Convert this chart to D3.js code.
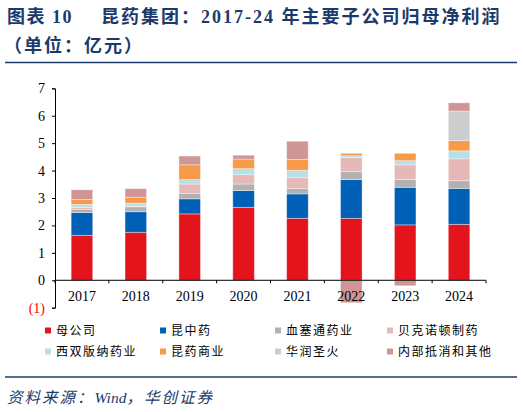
<!DOCTYPE html>
<html>
<head>
<meta charset="utf-8">
<script src="https://cdn.jsdelivr.net/npm/d3@7"></script>
<style>
  body { margin: 0; background: #fff; }
  svg { display: block; }
</style>
</head>
<body>
<div id="chart"></div>
<script>
"use strict";

// data (亿元)
var years = ["2017", "2018", "2019", "2020", "2021", "2022", "2023", "2024"];
var seriesNames = ["母公司", "昆中药", "血塞通药业", "贝克诺顿制药", "西双版纳药业", "昆药商业", "华润圣火", "内部抵消和其他"];
var muGongSi   = [1.64, 1.75, 2.42, 2.66, 2.26, 2.26, 2.02, 2.04];
var kunZhongYao = [0.83, 0.75, 0.55, 0.61, 0.89, 1.41, 1.37, 1.31];
var xueSaiTong = [0.12, 0.18, 0.19, 0.24, 0.19, 0.29, 0.28, 0.28];
var beiKe      = [0.06, 0.02, 0.35, 0.34, 0.40, 0.51, 0.54, 0.80];
var xiShuang   = [0.12, 0.11, 0.16, 0.22, 0.27, 0.07, 0.15, 0.29];
var shangYe    = [0.18, 0.22, 0.54, 0.35, 0.40, 0.09, 0.27, 0.37];
var huaRun     = [0, 0, 0, 0, 0, 0, 0, 1.08];
var qiTa       = [0.35, 0.31, 0.32, 0.14, 0.66, -0.82, -0.20, 0.30];
var yTicks = [-1, 0, 1, 2, 3, 4, 5, 6, 7];

var seriesData = [muGongSi, kunZhongYao, xueSaiTong, beiKe, xiShuang, shangYe, huaRun, qiTa];
var colors = ["#e4141c", "#0060b6", "#b1b1b1", "#e6b9b8", "#b9dfe9", "#f79a4a", "#cdcdcd", "#d09595"];

var W = 524, H = 412;
var navy = "#1b3a6b";

var svg = d3.select("#chart").append("svg")
    .attr("width", W).attr("height", H);

// title
var titleFont = "'Liberation Serif','Noto Sans CJK SC'";
svg.append("text")
   .attr("x", 7).attr("y", 23)
   .attr("font-family", titleFont)
   .attr("font-weight", "bold").attr("font-size", 18)
   .attr("letter-spacing", 1.5)
   .attr("fill", navy)
   .text("图表  10");
svg.append("text")
   .attr("x", 101).attr("y", 23)
   .attr("font-family", titleFont)
   .attr("font-weight", "bold").attr("font-size", 18)
   .attr("letter-spacing", 2)
   .attr("fill", navy)
   .text("昆药集团：2017-24 年主要子公司归母净利润");
svg.append("text")
   .attr("x", 4).attr("y", 52)
   .attr("font-family", "'Noto Sans CJK SC'")
   .attr("font-weight", "bold").attr("font-size", 18)
   .attr("letter-spacing", 2)
   .attr("fill", navy)
   .text("（单位：亿元）");
svg.append("line")
   .attr("x1", 5).attr("x2", 517).attr("y1", 62.5).attr("y2", 62.5)
   .attr("stroke", navy).attr("stroke-width", 1.5);

// scales
var x = d3.scaleBand().domain(years).range([55, 486]).paddingInner(0.6).paddingOuter(0.3);
var xb = d3.scaleBand().domain(years).range([55, 486]);
var y = d3.scaleLinear().domain([-1, 7]).range([307.7, 88.3]);

// stacked segments (positives stack up, negatives go down)
var pos = years.map(function () { return 0; });
var neg = years.map(function () { return 0; });
seriesData.forEach(function (vals, si) {
  vals.forEach(function (v, i) {
    if (v === 0) return;
    var y0, y1;
    if (v > 0) { y0 = pos[i]; y1 = pos[i] + v; pos[i] = y1; }
    else { y0 = neg[i] + v; y1 = neg[i]; neg[i] = y0; }
    svg.append("rect")
       .attr("x", x(years[i]))
       .attr("width", x.bandwidth())
       .attr("y", y(y1))
       .attr("height", y(y0) - y(y1))
       .attr("fill", colors[si])
       .attr("stroke", "#fff").attr("stroke-opacity", 0.45).attr("stroke-width", 0.8);
  });
});

// y axis
var yAxis = d3.axisLeft(y).tickValues(yTicks).tickSize(3)
    .tickFormat(function (d) { return d < 0 ? "(" + (-d) + ")" : d; });
var gy = svg.append("g").attr("transform", "translate(55,0)").call(yAxis);
gy.select(".domain").attr("stroke", "#000");
gy.selectAll(".tick line").attr("stroke", "#000");
gy.selectAll("text")
  .attr("font-family", "'Liberation Serif'").attr("font-size", 14)
  .attr("fill", function (d) { return d < 0 ? "#ff0000" : "#000"; })
  .attr("x", -10);

// x axis at zero with ticks at category boundaries
var gx = svg.append("g").attr("transform", "translate(0," + y(0) + ")");
gx.append("line").attr("x1", 55).attr("x2", 486).attr("stroke", "#000");
gx.selectAll(".bt").data(years.concat(["end"])).enter().append("line")
  .attr("x1", function (d, i) { return 55 + i * xb.bandwidth(); })
  .attr("x2", function (d, i) { return 55 + i * xb.bandwidth(); })
  .attr("y1", 0).attr("y2", 3).attr("stroke", "#000");
gx.selectAll(".yl").data(years).enter().append("text")
  .attr("x", function (d) { return xb(d) + xb.bandwidth() / 2; })
  .attr("y", 21)
  .attr("text-anchor", "middle")
  .attr("font-family", "'Liberation Serif'").attr("font-size", 14)
  .attr("fill", "#000")
  .text(function (d) { return d; });

// legend
var legX = [45, 160, 275, 387], legY = [330.5, 351.5];
seriesNames.forEach(function (name, i) {
  var lx = legX[i % 4], ly = legY[Math.floor(i / 4)];
  svg.append("rect").attr("x", lx).attr("y", ly - 3).attr("width", 6).attr("height", 6)
     .attr("fill", colors[i]);
  svg.append("text").attr("x", lx + 11).attr("y", ly + 4.5)
     .attr("font-family", "'Noto Sans CJK SC'").attr("font-size", 12)
     .attr("letter-spacing", 1.5)
     .attr("fill", "#000").text(name);
});

// footer
svg.append("line")
   .attr("x1", 5).attr("x2", 517).attr("y1", 377).attr("y2", 377)
   .attr("stroke", navy).attr("stroke-width", 1.5);
var src = svg.append("text")
   .attr("x", 7).attr("y", 403)
   .attr("font-family", "'Liberation Serif','Noto Sans CJK SC'")
   .attr("font-style", "italic").attr("font-size", 15.5)
   .attr("fill", navy);
src.append("tspan").attr("letter-spacing", 2).text("资料来源：");
src.append("tspan").text("Wind");
src.append("tspan").attr("letter-spacing", 2).text("，华创证券");
</script>
</body>
</html>
